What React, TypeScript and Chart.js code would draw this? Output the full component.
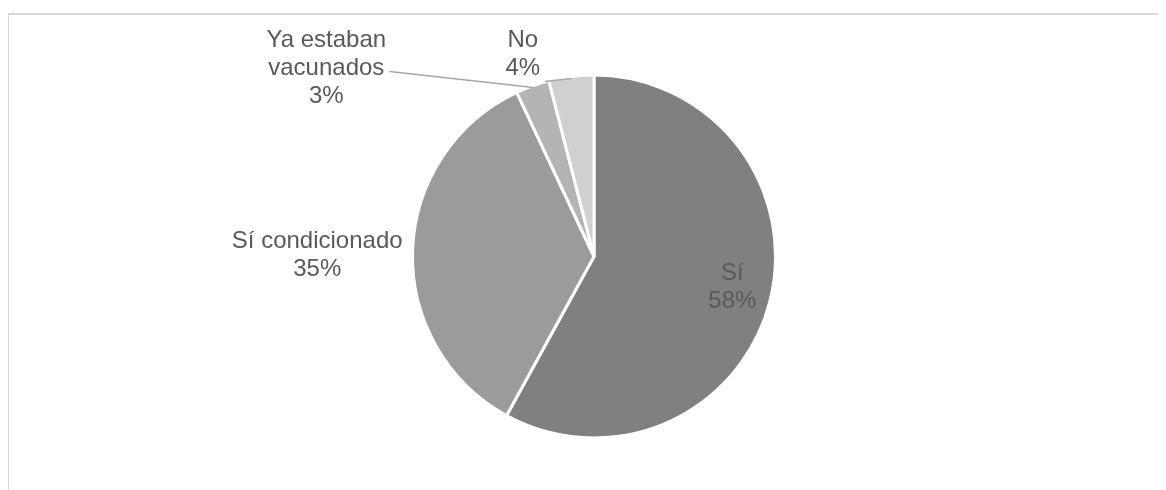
import React, { useEffect, useRef } from "react";
import { Chart, registerables } from "chart.js";

Chart.register(...registerables);

const categories = ["Sí", "Sí condicionado", "Ya estaban vacunados", "No"];
const values = [58, 35, 3, 4];
const labelLines = [["Sí", "58%"], ["Sí condicionado", "35%"], ["Ya estaban", "vacunados", "3%"], ["No", "4%"]];
const colors = ["#808080", "#9b9b9b", "#b4b4b4", "#d0d0d0"];

// label block centre and optional leader end, in units of the pie radius from the centre
const labelPos = [
  { x: 0.762, y: 0.169, leader: null as null | { x: number; y: number } },
  { x: -1.525, y: -0.008, leader: null },
  { x: -1.475, y: -1.039, leader: { x: -1.127, y: -1.019 } },
  { x: -0.392, y: -1.116, leader: { x: -0.271, y: -0.964 } },
];

const labelPlugin = {
  id: "pieLabels",
  afterDraw(chart: any) {
    const ctx = chart.ctx;
    const meta = chart.getDatasetMeta(0);
    ctx.save();
    ctx.font = '24px "Liberation Sans", Arial, sans-serif';
    ctx.fillStyle = "#595959";
    ctx.textAlign = "center";
    ctx.textBaseline = "middle";
    const lh = 28;
    meta.data.forEach((arc: any, i: number) => {
      const cx = arc.x;
      const cy = arc.y;
      const r = arc.outerRadius;
      const p = labelPos[i];
      const bx = cx + p.x * r;
      const by = cy + p.y * r;
      const lines = labelLines[i];
      if (p.leader) {
        const mid = (arc.startAngle + arc.endAngle) / 2;
        ctx.beginPath();
        ctx.strokeStyle = "#a6a6a6";
        ctx.lineWidth = 1.5;
        ctx.moveTo(cx + p.leader.x * r, cy + p.leader.y * r);
        ctx.lineTo(cx + Math.cos(mid) * (r - 2), cy + Math.sin(mid) * (r - 2));
        ctx.stroke();
      }
      lines.forEach((t, k) => {
        ctx.fillText(t, bx, by + (k - (lines.length - 1) / 2) * lh);
      });
    });
    ctx.restore();
  },
};

export default function App() {
  const ref = useRef<HTMLCanvasElement>(null);
  useEffect(() => {
    document.body.style.overflow = "hidden";
    const chart = new Chart(ref.current!, {
      type: "pie",
      data: {
        labels: categories,
        datasets: [
          {
            data: values,
            backgroundColor: colors,
            borderColor: "#ffffff",
            borderWidth: 3,
          },
        ],
      },
      options: {
        animation: false,
        responsive: false,
        maintainAspectRatio: false,
        layout: { padding: { left: 14, right: 0, top: 65.5, bottom: 50.5 } },
        plugins: { legend: { display: false }, tooltip: { enabled: false } },
      },
      plugins: [labelPlugin],
    });
    return () => chart.destroy();
  }, []);
  return (
    <div style={{ position: "relative", width: 1158, height: 482 }}>
      <div
        style={{
          position: "absolute",
          left: -1,
          top: 5,
          width: 1200,
          height: 600,
          borderTop: "2px solid #d9d9d9",
          borderLeft: "2px solid #d9d9d9",
        }}
      />
      <canvas
        ref={ref}
        width={1158}
        height={482}
        style={{ position: "absolute", left: 0, top: 0, width: 1158, height: 482 }}
      />
    </div>
  );
}
